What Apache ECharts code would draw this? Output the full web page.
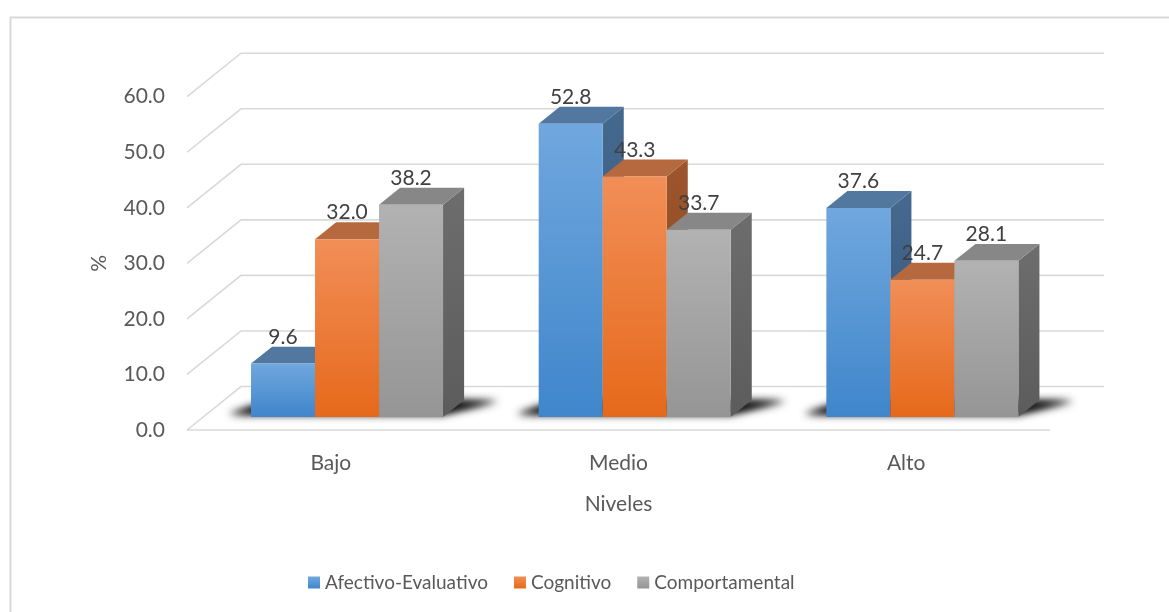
<!DOCTYPE html>
<html>
<head>
<meta charset="utf-8">
<script src="https://cdn.jsdelivr.net/npm/echarts@6/dist/echarts.min.js"></script>
<style>
  html, body { margin: 0; padding: 0; background: #fff; }
  #chart { width: 1169px; height: 612px; }
</style>
</head>
<body>
<div id="chart"></div>
<script>
// Niveles por dimensión (%)
const categories = ['Bajo', 'Medio', 'Alto'];
const seriesNames = ['Afectivo-Evaluativo', 'Cognitivo', 'Comportamental'];
const afectivo = [9.6, 52.8, 37.6];
const cognitivo = [32.0, 43.3, 24.7];
const comportamental = [38.2, 33.7, 28.1];
const yTicks = [0, 10, 20, 30, 40, 50, 60];

const seriesValues = [afectivo, cognitivo, comportamental];

// face colours: front gradient (top, bottom), top face, side face
const palette = [
  { front: ['#70a7de', '#3f86cb'], top: '#52789f', side: ['#45698f', '#335779'] },
  { front: ['#f18e57', '#e6691b'], top: '#b6693f', side: ['#9d552c', '#874620'] },
  { front: ['#b2b2b2', '#959595'], top: '#878787', side: ['#6d6d6d', '#5c5c5c'] }
];

const FONT = 'Lato, "Open Sans", sans-serif';
const TEXT = '#595959';

// perspective of the plot box, as fractions of one category band
const DEPTH_X = 0.1877;
const DEPTH_Y = -0.1512;
const BAR_FRONT = 0.30;   // depth of the bar front faces
const BAR_BACK = 0.69;    // depth of the bar back faces
const BAR_W = 0.2225;     // bar width relative to the band

function vgrad(c0, c1) {
  return new echarts.graphic.LinearGradient(0, 0, 0, 1, [
    { offset: 0, color: c0 }, { offset: 1, color: c1 }
  ]);
}

function frame(api) {
  const band = api.size([1, 0])[0];
  return { band: band, dx: band * DEPTH_X, dy: band * DEPTH_Y };
}

// back wall, side wall and floor lines
function renderWalls(params, api) {
  const f = frame(api);
  const first = api.coord([0, 0]);
  const last = api.coord([categories.length - 1, 0]);
  const L = first[0] - f.band / 2;
  const R = last[0] + f.band / 2;
  const children = [];
  const lineStyle = { stroke: '#d9d9d9', lineWidth: 1.6, fill: null };
  yTicks.forEach(function (t) {
    const y = api.coord([0, t])[1];
    children.push({
      type: 'polyline',
      shape: { points: [[L, y], [L + f.dx, y + f.dy], [R + f.dx, y + f.dy]] },
      style: lineStyle
    });
  });
  const y0 = api.coord([0, 0])[1];
  children.push({ type: 'line', shape: { x1: L, y1: y0, x2: R, y2: y0 }, style: lineStyle });
  return { type: 'group', children: children };
}

// soft shadow on the floor under each group of bars
function renderShadow(params, api) {
  const f = frame(api);
  const i = api.value(0);
  const c = api.coord([i, 0]);
  const bw = f.band * BAR_W;
  const gl = c[0] - 1.5 * bw + BAR_FRONT * f.dx;
  const gr = gl + 3 * bw;
  const yf = c[1] + BAR_FRONT * f.dy;
  const bx = (BAR_BACK - BAR_FRONT) * f.dx;
  const by = (BAR_BACK - BAR_FRONT) * f.dy;
  const off = 4000;
  const pts = [
    [gl - 22, yf - 3], [gr, yf - 3], [gr + bx + 34, yf + by + 1], [gl + bx - 2, yf + by + 1]
  ].map(function (p) { return [p[0] - off, p[1]]; });
  const layer = function (blur, alpha) {
    return {
      type: 'polygon',
      shape: { points: pts },
      style: { fill: '#000', shadowBlur: blur, shadowColor: 'rgba(0,0,0,' + alpha + ')', shadowOffsetX: off, shadowOffsetY: 0 }
    };
  };
  return { type: 'group', children: [layer(10, 0.9), layer(6, 0.7)] };
}

function makeBarRenderer(s) {
  return function (params, api) {
    const f = frame(api);
    const i = api.value(0);
    const v = api.value(1);
    const base = api.coord([i, 0]);
    const top = api.coord([i, v]);
    const bw = f.band * BAR_W;
    const x0 = base[0] - 1.5 * bw + BAR_FRONT * f.dx + s * bw;
    const x1 = x0 + bw;
    const yb = base[1] + BAR_FRONT * f.dy;
    const yt = top[1] + BAR_FRONT * f.dy;
    const bx = (BAR_BACK - BAR_FRONT) * f.dx;
    const by = (BAR_BACK - BAR_FRONT) * f.dy;
    const p = palette[s];
    return {
      type: 'group',
      children: [
        {
          type: 'polygon',
          shape: { points: [[x1, yt], [x1 + bx, yt + by], [x1 + bx, yb + by], [x1, yb]] },
          style: { fill: vgrad(p.side[0], p.side[1]) }
        },
        {
          type: 'polygon',
          shape: { points: [[x0, yt], [x1, yt], [x1 + bx, yt + by], [x0 + bx, yt + by]] },
          style: { fill: p.top }
        },
        {
          type: 'rect',
          shape: { x: x0, y: yt, width: bw, height: yb - yt },
          style: { fill: vgrad(p.front[0], p.front[1]) }
        },
        {
          type: 'text',
          style: {
            x: (x0 + x1) / 2, y: yt + by + 1,
            text: v.toFixed(1),
            align: 'center', verticalAlign: 'bottom',
            font: '21px ' + FONT, fill: '#404040'
          }
        }
      ]
    };
  };
}

const chart = echarts.init(document.getElementById('chart'), null, { renderer: 'canvas' });

const series = [
  {
    type: 'custom', name: 'walls', silent: true,
    renderItem: renderWalls,
    data: [[0, 0]],
    encode: { x: 0, y: 1 }
  },
  {
    type: 'custom', name: 'shadow', silent: true,
    renderItem: renderShadow,
    data: categories.map(function (c, i) { return [i, 0]; }),
    encode: { x: 0, y: 1 }
  }
];
seriesNames.forEach(function (name, s) {
  series.push({
    type: 'custom',
    name: name,
    renderItem: makeBarRenderer(s),
    itemStyle: { color: vgrad(palette[s].front[0], palette[s].front[1]) },
    data: seriesValues[s].map(function (v, i) { return [i, v]; }),
    encode: { x: 0, y: 1 }
  });
});

chart.setOption({
  animation: false,
  backgroundColor: '#fff',
  graphic: [{
    type: 'rect', left: 8, top: 15, silent: true,
    shape: { width: 1200, height: 700 },
    style: { fill: null, stroke: '#d9d9d9', lineWidth: 2 }
  }],
  grid: { left: 187, right: 119, top: 96.7, bottom: 182 },
  legend: {
    data: seriesNames,
    left: 303, top: 568,
    icon: 'rect', itemWidth: 12, itemHeight: 12, itemGap: 26,
    textStyle: { fontFamily: FONT, fontSize: 19, color: TEXT }
  },
  xAxis: {
    type: 'category',
    data: categories,
    name: 'Niveles',
    nameLocation: 'middle',
    nameGap: 64,
    nameTextStyle: { fontFamily: FONT, fontSize: 21, color: TEXT },
    axisLine: { show: false },
    axisTick: { show: false },
    axisLabel: { margin: 23, fontFamily: FONT, fontSize: 21, color: TEXT },
    splitLine: { show: false }
  },
  yAxis: {
    type: 'value',
    min: 0, max: 60, interval: 10,
    name: '%',
    nameLocation: 'middle',
    nameGap: 77,
    nameRotate: 90,
    nameTextStyle: { fontFamily: FONT, fontSize: 21, color: TEXT },
    axisLine: { show: false },
    axisTick: { show: false },
    splitLine: { show: false },
    axisLabel: {
      margin: 22, fontFamily: FONT, fontSize: 21, color: TEXT,
      formatter: function (v) { return v.toFixed(1); }
    }
  },
  series: series
});
</script>
</body>
</html>
